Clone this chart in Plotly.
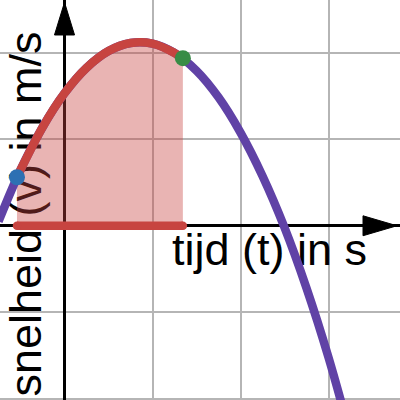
import plotly.graph_objects as go

# Velocity curve (t in s, v in m/s)
T = [-0.75, -0.5, -0.25, 0.0, 0.25, 0.5, 0.75, 1.0, 1.25, 1.5, 1.75, 2.0, 2.25, 2.5, 2.75, 3.0, 3.25]
V = [0.05, 0.645, 1.137, 1.53, 1.823, 2.017, 2.11, 2.103, 1.996, 1.79, 1.483, 1.076, 0.575, -0.02, -0.72, -1.52, -2.43]

# Marked points on the curve
T_BLUE, V_BLUE = -0.54, 0.56
T_GREEN, V_GREEN = 1.345, 1.935

X_LABEL = "tijd (t) in s"
Y_LABEL = "snelheid (v) in m/s"

X_RANGE = [-0.733, 3.8125]
Y_RANGE = [-2.012, 2.607]

RED = "#c74440"
BLUE = "#2d70b3"
GREEN = "#388c46"
PURPLE = "#6042a6"

# red arc = part of curve between blue and green points
arc_t = [T_BLUE] + [t for t in T if T_BLUE < t < T_GREEN] + [T_GREEN]
arc_v = [V_BLUE] + [v for t, v in zip(T, V) if T_BLUE < t < T_GREEN] + [V_GREEN]

fig = go.Figure()

# shaded area under the arc
fig.add_trace(go.Scatter(x=arc_t, y=arc_v, mode="lines", fill="tozeroy",
                         fillcolor="rgba(199,68,64,0.4)",
                         line=dict(width=0, shape="spline", color=RED),
                         hoverinfo="skip"))
# full curve
fig.add_trace(go.Scatter(x=T, y=V, mode="lines",
                         line=dict(width=8.5, shape="spline", color=PURPLE),
                         hoverinfo="skip"))
# red arc
fig.add_trace(go.Scatter(x=arc_t, y=arc_v, mode="lines",
                         line=dict(width=8.5, shape="spline", color=RED),
                         hoverinfo="skip"))
# red base segment on the t-axis
fig.add_trace(go.Scatter(x=[T_BLUE, T_GREEN], y=[0, 0], mode="lines+markers",
                         line=dict(width=8.5, color=RED),
                         marker=dict(size=8.5, color=RED),
                         hoverinfo="skip"))
# points
fig.add_trace(go.Scatter(x=[T_BLUE], y=[V_BLUE], mode="markers",
                         marker=dict(size=16, color=BLUE), hoverinfo="skip"))
fig.add_trace(go.Scatter(x=[T_GREEN], y=[V_GREEN], mode="markers",
                         marker=dict(size=16, color=GREEN), hoverinfo="skip"))

# axis arrowheads
xa_tip, xa_base, xa_half = 3.778, 3.392, 0.115
ya_tip, ya_base, ya_half = 2.58, 2.203, 0.114
fig.add_shape(type="path", xref="x", yref="y", layer="above",
              path=f"M {xa_tip},0 L {xa_base},{xa_half} L {xa_base},{-xa_half} Z",
              fillcolor="black", line=dict(color="black", width=1))
fig.add_shape(type="path", xref="x", yref="y", layer="above",
              path=f"M 0,{ya_tip} L {ya_half},{ya_base} L {-ya_half},{ya_base} Z",
              fillcolor="black", line=dict(color="black", width=1))

FONT = "Liberation Sans, Arial, sans-serif"
fig.add_annotation(x=1.2, y=-0.27, xref="x", yref="y", text=X_LABEL,
                   showarrow=False, xanchor="left", yanchor="middle",
                   font=dict(family=FONT, size=45, color="black"))
fig.add_annotation(x=-0.4375, y=0.13, xref="x", yref="y", text=Y_LABEL,
                   showarrow=False, xanchor="center", yanchor="middle", textangle=-90,
                   font=dict(family=FONT, size=45, color="black"))

axis_common = dict(showticklabels=False, ticks="", showgrid=True, gridcolor="#b5b5b5",
                   gridwidth=1.5, dtick=1, tick0=0, zeroline=True, zerolinecolor="black",
                   zerolinewidth=3, showline=False, fixedrange=True)
fig.update_xaxes(range=X_RANGE, **axis_common)
fig.update_yaxes(range=Y_RANGE, **axis_common)

fig.update_layout(width=400, height=400, margin=dict(l=0, r=0, t=0, b=0),
                  paper_bgcolor="white", plot_bgcolor="white", showlegend=False)

# page margin reset; draw the axis-label texts beneath the plotted marks (as in the reference)
POST = """
document.body.style.margin='0';document.body.style.overflow='hidden';
try {
  var gd = document.getElementById('{plot_id}');
  var sp = gd.querySelector('.cartesianlayer .subplot.xy');
  var op = sp.querySelector('.overplot') || sp.querySelector('.plot');
  var anns = gd.querySelectorAll('.infolayer .annotation');
  anns.forEach(function(a){ op.parentNode.insertBefore(a, op); });
} catch(e) {}
"""

fig.write_html("out.html", config={"displayModeBar": False}, post_script=POST)
